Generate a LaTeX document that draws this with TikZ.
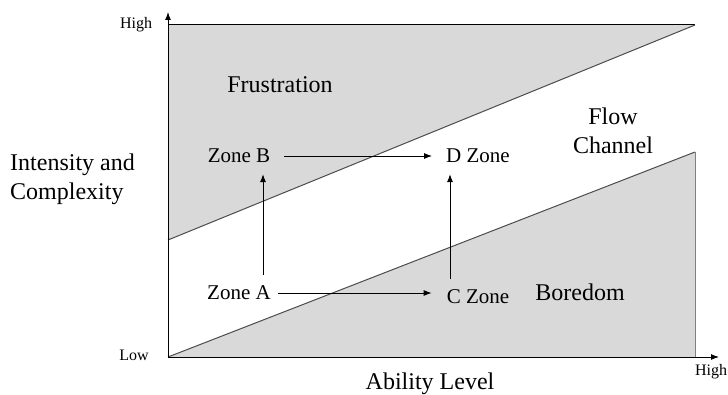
\documentclass[tikz,border=0pt]{standalone}
\usepackage{fontspec}
\setmainfont{Liberation Serif}
\usetikzlibrary{arrows.meta}
\definecolor{zonefill}{HTML}{D9D9D9}
\tikzset{
  lbl/.style={font=\fontsize{24}{29}\selectfont, inner sep=0pt},
  small/.style={font=\fontsize{16}{19}\selectfont, inner sep=0pt},
  zone/.style={font=\fontsize{21}{25}\selectfont, inner xsep=14pt, inner ysep=11pt},
  arr/.style={-{Latex[length=8pt,width=6pt]}, line width=0.8pt},
}
\begin{document}
\begin{tikzpicture}[x=1pt,y=-1pt]
\useasboundingbox (0,0) rectangle (728,395);
% shaded regions
\fill[zonefill] (168,25) -- (695,25) -- (168,240) -- cycle;
\draw[line width=1pt] (168,25) -- (695,25);
\draw[line width=1pt, black!70] (695,25) -- (168,240);
\fill[zonefill] (168,357) -- (695,152) -- (695,357) -- cycle;
\draw[line width=1pt, black!70] (168,357) -- (695,152);
\draw[line width=1pt, black!50] (695,152) -- (695,357);
% axes
\coordinate (O) at (168,357);
\coordinate (Ytop) at (168,12);
\coordinate (Xend) at (719,357);
\draw[arr, line width=1pt] (O) -- (Ytop);
\draw[arr, line width=1pt] (O) -- (Xend);
% axis labels
\node[small] (yhigh) at (136,25) {High};
\node[small] (ylow) at (134,355) {Low};
\node[small] (xhigh) at (711,372) {High};
\node[lbl] (xlab) at (430,384) {Ability Level};
\node[lbl, align=left, anchor=west] (ylab) at (10,179) {Intensity and\\Complexity};
% region labels
\node[lbl] (frus) at (280,85) {Frustration};
\node[lbl, align=center] (flow) at (613,131) {Flow\\Channel};
\node[lbl] (bore) at (580,292) {Boredom};
% zones
\node[zone] (zB) at (239,156) {Zone B};
\node[zone] (zD) at (478,156) {D Zone};
\node[zone] (zA) at (239,293) {Zone A};
\node[zone] (zC) at (478,297) {C Zone};
% arrows
\draw[arr] (zB.east) -- (zD.west |- zB.east);
\draw[arr] ([xshift=-7pt]zA.east) -- ([xshift=-1pt]zC.west |- zA.east);
\draw[arr] ([xshift=24pt]zA.north) -- ([xshift=24pt]zB.south);
\draw[arr] ([xshift=-28pt]zC.north) -- ([xshift=-28pt]zD.south);
\end{tikzpicture}
\end{document}
